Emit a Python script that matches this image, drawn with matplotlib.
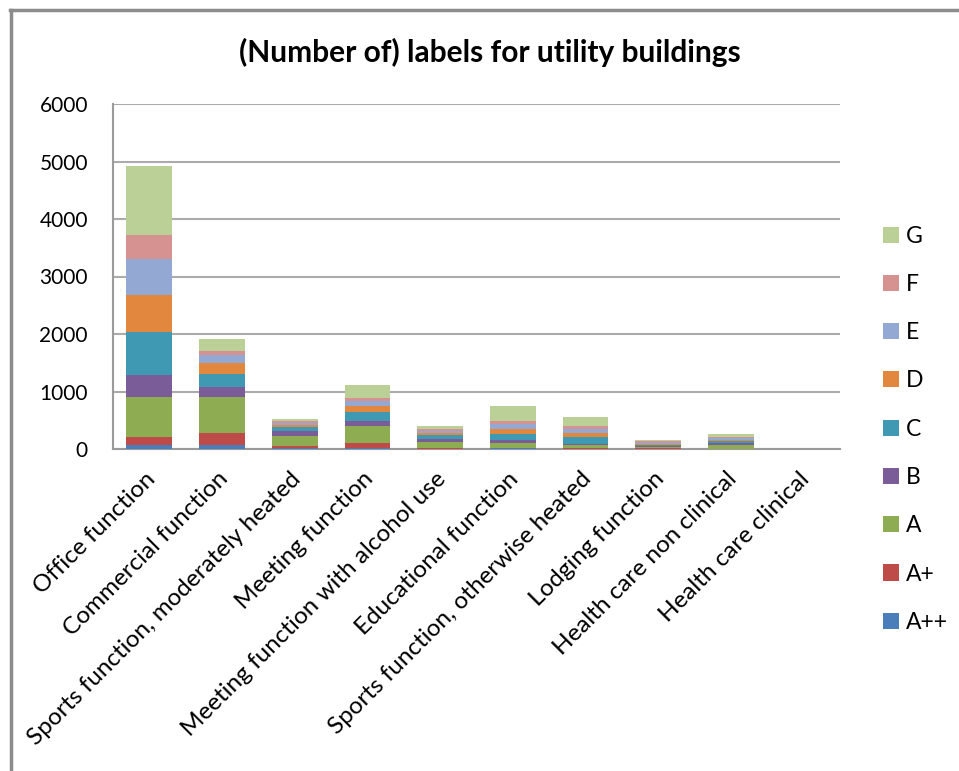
import matplotlib
matplotlib.use("Agg")
import matplotlib.pyplot as plt
from matplotlib.lines import Line2D
from matplotlib.patches import Patch
from matplotlib.transforms import ScaledTranslation
import numpy as np

plt.rcParams['font.family'] = ['Lato', 'DejaVu Sans']

categories = ["Office function", "Commercial function",
              "Sports function, moderately heated", "Meeting function",
              "Meeting function with alcohol use", "Educational function",
              "Sports function, otherwise heated", "Lodging function",
              "Health care non clinical", "Health care clinical"]

labels = ["A++", "A+", "A", "B", "C", "D", "E", "F", "G"]

# counts per energy label, one list per label (same order as categories)
a_pp = [75, 75, 10, 10, 5, 10, 5, 5, 3, 0]
a_p = [140, 210, 35, 100, 10, 10, 10, 5, 5, 0]
a = [685, 615, 175, 295, 110, 85, 60, 20, 67, 0]
b = [380, 180, 85, 85, 45, 45, 17, 25, 24, 0]
c = [760, 230, 75, 160, 65, 115, 122, 20, 40, 0]
d = [640, 180, 35, 90, 40, 90, 70, 15, 23, 0]
e = [620, 140, 40, 90, 40, 75, 64, 20, 24, 0]
f = [425, 70, 30, 60, 30, 65, 52, 25, 28, 0]
g = [1190, 210, 35, 230, 55, 250, 162, 15, 52, 0]

series = [a_pp, a_p, a, b, c, d, e, f, g]
colors = ['#4A7EBB', '#BE4B48', '#8EAD52', '#7A5C98', '#4099B2',
          '#E2873E', '#93A9D3', '#D69191', '#BBD096']

fig = plt.figure(figsize=(9.59, 7.71), dpi=100)
W, H = 959, 771
ax = fig.add_axes([113 / W, 1 - 449 / H, 727 / W, 345 / H])

x = np.arange(len(categories))
bottom = np.zeros(len(categories))
for vals, col, lab in zip(series, colors, labels):
    ax.bar(x, vals, width=0.63, bottom=bottom, color=col, label=lab, zorder=3)
    bottom += np.array(vals)

ax.set_xlim(-0.5, len(categories) - 0.5)
ax.set_ylim(0, 6000)
ax.set_yticks(range(0, 6001, 1000))
ax.yaxis.grid(True, color='#ABABAB', linewidth=1.5, zorder=0)
ax.tick_params(axis='both', length=0, colors='black')
ax.tick_params(axis='y', pad=18, labelsize=15)
ax.set_xticks(x)
ax.set_xticklabels(categories, rotation=45, ha='right', va='top',
                   rotation_mode='anchor', fontsize=17.5)
ax.tick_params(axis='x', pad=8)
shift = ScaledTranslation(-5 / 100, -8 / 100, fig.dpi_scale_trans)
for lbl in ax.get_xticklabels():
    lbl.set_transform(lbl.get_transform() + shift)
for side in ['top', 'right']:
    ax.spines[side].set_visible(False)
for side in ['left', 'bottom']:
    ax.spines[side].set_color('#9A9A9A')
    ax.spines[side].set_linewidth(1.5)

fig.text(490 / W, 1 - 52 / H, "(Number of) labels for utility buildings",
         ha='center', va='center', fontsize=21.5, fontweight='bold')

handles = [Patch(facecolor=col) for col in colors][::-1]
fig.legend(handles, labels[::-1], loc='upper left',
           bbox_to_anchor=(862 / W, 1 - 205 / H), frameon=False,
           fontsize=16.5, handlelength=0.7, handleheight=0.7,
           handletextpad=0.3, labelspacing=1.19)

# outer frame, top and left only
fig.add_artist(Line2D([10 / W, 1], [1 - 10 / H, 1 - 10 / H],
                      transform=fig.transFigure, color='#8C8C8C', lw=2.5))
fig.add_artist(Line2D([11 / W, 11 / W], [0, 1 - 10 / H],
                      transform=fig.transFigure, color='#8C8C8C', lw=2.5))

fig.savefig("out.png", dpi=100)
